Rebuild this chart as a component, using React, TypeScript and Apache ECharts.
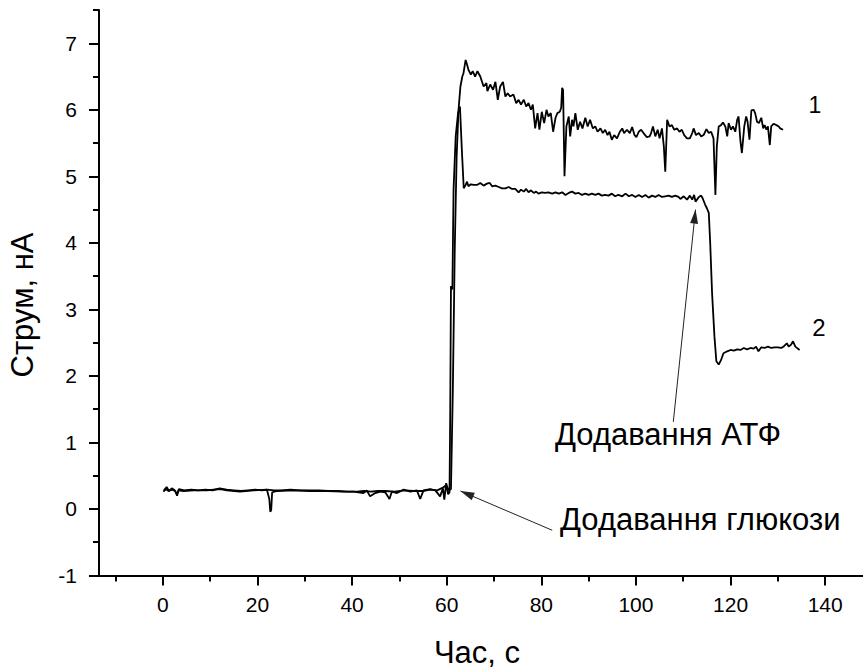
import React, { useEffect, useRef } from 'react';
import * as echarts from 'echarts';

// Curve 1 (upper trace)
const time1 = [
  0.2, 0.8, 1.3, 1.9, 2.5, 3.0, 3.4, 4.5, 6.0, 7.5, 9.0, 10.5, 12.0, 13.5, 15.0, 16.5, 18.0, 19.5, 21.0, 22.0,
  23.5, 25.0, 27.0, 29.0, 31.0, 33.0, 35.0, 37.0, 39.0, 41.0, 42.5, 44.0, 45.5, 47.0, 49.0, 51.0, 53.0, 55.0, 56.5, 58.0,
  59.2, 59.9, 60.5, 60.9, 61.3, 61.7, 62.1, 62.5, 62.9, 63.3, 63.55, 64.0, 64.3, 64.6, 65.1, 65.5, 66.0, 66.5, 67.1, 67.8,
  68.4, 68.6, 69.2, 69.8, 70.3, 70.8, 71.3, 71.9, 72.4, 72.9, 73.4, 74.1, 74.7, 75.2, 75.7, 76.3, 76.8, 77.3, 77.8, 78.2,
  78.7, 79.2, 79.6, 80.1, 80.6, 81.1, 81.5, 82.0, 82.5, 83.0, 83.4, 83.9, 84.2, 84.4, 84.6, 84.9, 85.3, 85.8, 86.1, 86.5,
  86.8, 87.2, 87.7, 88.2, 88.7, 89.3, 89.8, 90.3, 90.9, 91.4, 91.9, 92.5, 93.0, 93.5, 94.0, 94.4, 94.9, 95.4, 96.0, 96.6,
  97.1, 97.5, 98.1, 98.7, 99.2, 99.7, 100.1, 100.6, 101.1, 101.6, 102.3, 102.9, 103.2, 103.6, 104.1, 104.6, 105.0, 105.5, 105.9, 106.2,
  106.6, 107.1, 107.6, 108.1, 108.7, 109.2, 109.7, 110.2, 110.8, 111.4, 111.9, 112.2, 112.7, 113.3, 113.8, 114.3, 114.9, 115.4, 115.9, 116.4,
  116.8, 117.1, 117.5, 118.0, 118.4, 118.9, 119.3, 119.6, 120.1, 120.5, 121.0, 121.4, 121.7, 122.1, 122.4, 122.9, 123.3, 123.6, 124.0, 124.4,
  124.9, 125.2, 125.6, 126.0, 126.5, 126.9, 127.2, 127.6, 127.9, 128.3, 128.6, 129.1, 129.7, 130.2, 130.5, 131.1
];
const current1 = [
  0.28, 0.33, 0.27, 0.31, 0.28, 0.22, 0.30, 0.28, 0.29, 0.28, 0.29, 0.28, 0.31, 0.29, 0.28, 0.27, 0.28, 0.29, 0.28, 0.29,
  0.28, 0.28, 0.29, 0.28, 0.28, 0.28, 0.27, 0.27, 0.26, 0.26, 0.27, 0.26, 0.27, 0.27, 0.26, 0.28, 0.27, 0.27, 0.29, 0.28,
  0.32, 0.36, 0.28, 0.30, 1.8, 3.9, 5.3, 6.0, 6.35, 6.5, 6.55, 6.75, 6.68, 6.6, 6.53, 6.58, 6.5, 6.58, 6.5, 6.35,
  6.4, 6.28, 6.38, 6.3, 6.42, 6.15, 6.35, 6.42, 6.2, 6.25, 6.2, 6.23, 6.1, 6.15, 6.08, 6.15, 6.05, 6.1, 6.0, 6.08,
  5.72, 5.95, 5.7, 5.97, 5.8, 6.0, 5.9, 5.95, 5.67, 5.88, 5.95, 5.97, 6.03, 6.33, 6.3, 5.0, 5.75, 5.9, 5.6, 5.85,
  5.75, 5.95, 5.7, 5.82, 5.72, 5.88, 5.75, 5.85, 5.72, 5.75, 5.67, 5.72, 5.65, 5.7, 5.62, 5.67, 5.55, 5.62, 5.57, 5.67,
  5.72, 5.65, 5.7, 5.65, 5.74, 5.62, 5.59, 5.67, 5.7, 5.65, 5.59, 5.6, 5.65, 5.75, 5.6, 5.7, 5.57, 5.72, 5.45, 5.07,
  5.85, 5.75, 5.77, 5.7, 5.72, 5.67, 5.7, 5.62, 5.57, 5.57, 5.65, 5.72, 5.62, 5.65, 5.6, 5.62, 5.71, 5.65, 5.67, 5.57,
  4.72, 5.45, 5.75, 5.77, 5.81, 5.75, 5.6, 5.8, 5.7, 5.75, 5.67, 5.85, 5.9, 5.52, 5.35, 5.75, 5.9, 5.82, 5.55, 5.99,
  6.0, 5.95, 5.82, 5.8, 5.88, 5.72, 5.77, 5.7, 5.75, 5.47, 5.75, 5.79, 5.77, 5.75, 5.72, 5.7
];

// Curve 2 (lower trace)
const time2 = [
  0.1, 0.7, 1.2, 1.9, 2.6, 3.0, 3.3, 4.4, 6.5, 9.3, 12.1, 13.5, 16.3, 19.2, 22.0, 22.5, 22.7, 22.9, 23.1, 24.1,
  27.6, 31.1, 34.7, 38.2, 40.3, 42.4, 43.1, 43.8, 44.9, 46.0, 47.0, 47.9, 48.4, 49.5, 50.9, 52.3, 53.7, 54.4, 55.1, 56.5,
  57.6, 58.6, 59.2, 59.5, 59.9, 60.3, 60.6, 60.75, 60.9, 61.2, 61.45, 61.9, 62.4, 62.8, 63.2, 63.6, 64.0, 64.3, 64.6, 65.1,
  65.7, 66.4, 67.1, 67.8, 68.5, 69.1, 69.6, 70.3, 71.0, 71.7, 72.4, 73.1, 73.8, 74.5, 75.2, 75.7, 76.3, 76.8, 77.3, 77.8,
  78.4, 78.9, 79.4, 80.1, 80.8, 81.5, 82.3, 83.0, 83.7, 84.4, 85.1, 85.8, 86.5, 87.2, 87.9, 88.6, 89.3, 90.0, 90.7, 91.4,
  92.1, 92.8, 93.5, 94.2, 94.9, 95.6, 96.3, 97.1, 97.8, 98.5, 99.2, 99.9, 100.6, 101.3, 102.0, 102.7, 103.4, 104.1, 104.8, 105.5,
  106.2, 106.9, 107.6, 108.3, 109.0, 109.4, 110.1, 110.8, 111.4, 111.9, 112.3, 112.6, 113.3, 113.8, 114.1, 114.6, 115.0, 115.4, 115.7, 116.1,
  116.6, 117.0, 117.5, 118.0, 118.5, 119.3, 120.0, 120.7, 121.4, 122.1, 122.8, 123.5, 124.2, 124.9, 125.4, 125.9, 126.5, 127.2, 127.9, 128.6,
  129.3, 130.0, 130.7, 131.2, 131.9, 132.3, 132.8, 133.2, 133.7, 134.6
];
const current2 = [
  0.26, 0.30, 0.27, 0.29, 0.27, 0.20, 0.28, 0.27, 0.28, 0.28, 0.30, 0.28, 0.26, 0.28, 0.29, 0.15, -0.04, -0.02, 0.25, 0.27,
  0.28, 0.27, 0.27, 0.26, 0.26, 0.24, 0.28, 0.19, 0.24, 0.26, 0.25, 0.15, 0.26, 0.24, 0.29, 0.26, 0.28, 0.15, 0.28, 0.30,
  0.28, 0.19, 0.31, 0.14, 0.39, 0.22, 0.25, 1.5, 3.35, 3.3, 4.8, 5.6, 5.95, 6.05, 5.4, 4.82, 4.87, 4.92, 4.85, 4.88,
  4.87, 4.87, 4.9, 4.86, 4.89, 4.9, 4.85, 4.86, 4.84, 4.82, 4.82, 4.84, 4.81, 4.81, 4.76, 4.8, 4.77, 4.81, 4.76, 4.79,
  4.75, 4.77, 4.74, 4.76, 4.75, 4.76, 4.74, 4.76, 4.74, 4.76, 4.72, 4.75, 4.77, 4.74, 4.75, 4.72, 4.74, 4.72, 4.74, 4.72,
  4.74, 4.71, 4.72, 4.71, 4.74, 4.7, 4.72, 4.7, 4.74, 4.7, 4.72, 4.69, 4.72, 4.69, 4.72, 4.68, 4.71, 4.69, 4.72, 4.69,
  4.7, 4.71, 4.69, 4.71, 4.69, 4.66, 4.7, 4.65, 4.71, 4.65, 4.72, 4.62, 4.69, 4.71, 4.67, 4.58, 4.52, 4.45, 4.0, 3.24,
  2.59, 2.22, 2.17, 2.24, 2.34, 2.37, 2.39, 2.38, 2.4, 2.39, 2.42, 2.4, 2.42, 2.41, 2.44, 2.37, 2.43, 2.42, 2.44, 2.42,
  2.43, 2.43, 2.42, 2.44, 2.49, 2.44, 2.47, 2.52, 2.44, 2.39
];

const xMajorTicks = [0, 20, 40, 60, 80, 100, 120, 140];
const xMinorTicks = [-10, 10, 30, 50, 70, 90, 110, 130];
const yMajorTicks = [-1, 0, 1, 2, 3, 4, 5, 6, 7];
const yMinorTicks = [-0.5, 0.5, 1.5, 2.5, 3.5, 4.5, 5.5, 6.5, 7.5];

// Annotation arrows: [start, tip] in data units
const arrowGlucose = [[82.3, -0.32], [62.9, 0.27]];
const arrowATP = [[107.9, 1.31], [112.6, 4.5]];

const FONT = "'Liberation Sans', Arial, Helvetica, sans-serif";

function zip(t: number[], v: number[]) {
  return t.map((x, i) => [x, v[i]]);
}

export default function App() {
  const ref = useRef<HTMLDivElement>(null);
  useEffect(() => {
    document.body.style.margin = '0';
    if (!ref.current) return;
    const chart = echarts.init(ref.current, null, { renderer: 'svg' });
    const xMin = -13.5;
    const xMax = 148;
    const yMin = -1;
    const yMax = 7.5;
    const axisLineStyle = { color: '#000', width: 2 };
    const arrowLine = (pts: number[][]) => [{ coord: pts[0] }, { coord: pts[1] }];
    chart.setOption({
      animation: false,
      backgroundColor: '#fff',
      grid: { left: 99, right: 0, top: 10, bottom: 92.5 },
      xAxis: [
        {
          type: 'value', min: xMin, max: xMax, position: 'bottom',
          axisLine: { show: true, onZero: false, lineStyle: axisLineStyle },
          axisTick: { show: true, length: 10, lineStyle: { color: '#000', width: 2 }, customValues: xMajorTicks },
          axisLabel: { show: true, customValues: xMajorTicks, margin: 18, color: '#000', fontSize: 21, fontFamily: FONT },
          splitLine: { show: false },
        },
        {
          type: 'value', min: xMin, max: xMax, position: 'bottom',
          axisLine: { show: false, onZero: false },
          axisTick: { show: true, length: 6, lineStyle: { color: '#000', width: 2 }, customValues: xMinorTicks },
          axisLabel: { show: false },
          splitLine: { show: false },
        },
      ],
      yAxis: [
        {
          type: 'value', min: yMin, max: yMax, position: 'left',
          axisLine: { show: true, onZero: false, lineStyle: axisLineStyle },
          axisTick: { show: true, length: 10, lineStyle: { color: '#000', width: 2 }, customValues: yMajorTicks },
          axisLabel: { show: true, customValues: yMajorTicks, margin: 22, color: '#000', fontSize: 21, fontFamily: FONT },
          splitLine: { show: false },
        },
        {
          type: 'value', min: yMin, max: yMax, position: 'left',
          axisLine: { show: false, onZero: false },
          axisTick: { show: true, length: 6, lineStyle: { color: '#000', width: 2 }, customValues: yMinorTicks },
          axisLabel: { show: false },
          splitLine: { show: false },
        },
      ],
      series: [
        {
          type: 'line', name: '1', data: zip(time1, current1), showSymbol: false, symbol: 'none',
          lineStyle: { color: '#000', width: 1.8 }, xAxisIndex: 0, yAxisIndex: 0, silent: true,
        },
        {
          type: 'line', name: '2', data: zip(time2, current2), showSymbol: false, symbol: 'none',
          lineStyle: { color: '#000', width: 1.8 }, xAxisIndex: 0, yAxisIndex: 0, silent: true,
          markLine: {
            silent: true,
            symbol: ['none', 'triangle'],
            symbolSize: [8, 14],
            symbolOffset: [0, [0, 7]],
            label: { show: false },
            lineStyle: { color: '#222', width: 1, type: 'solid' },
            emphasis: { disabled: true },
            data: [arrowLine(arrowGlucose), arrowLine(arrowATP)],
          },
        },
      ],
      graphic: [
        {
          type: 'text', x: 22, y: 305, rotation: Math.PI / 2,
          style: { text: 'Струм, нА', font: `31px ${FONT}`, fill: '#000', align: 'center', verticalAlign: 'middle' },
        },
        {
          type: 'text', x: 477, y: 652,
          style: { text: 'Час, с', font: `31px ${FONT}`, fill: '#000', align: 'center', verticalAlign: 'middle' },
        },
        {
          type: 'text', x: 555, y: 434,
          style: { text: 'Додавання АТФ', font: `31px ${FONT}`, fill: '#000', align: 'left', verticalAlign: 'middle' },
        },
        {
          type: 'text', x: 560, y: 519,
          style: { text: 'Додавання глюкози', font: `31px ${FONT}`, fill: '#000', align: 'left', verticalAlign: 'middle' },
        },
        {
          type: 'text', x: 815, y: 105,
          style: { text: '1', font: `23px ${FONT}`, fill: '#000', align: 'center', verticalAlign: 'middle' },
        },
        {
          type: 'text', x: 819, y: 327,
          style: { text: '2', font: `24px ${FONT}`, fill: '#000', align: 'center', verticalAlign: 'middle' },
        },
      ],
    });
    return () => chart.dispose();
  }, []);
  return <div ref={ref} style={{ width: 863, height: 668 }} />;
}
